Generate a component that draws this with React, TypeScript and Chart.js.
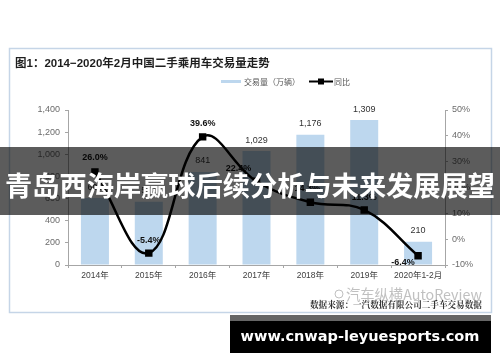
import React, { useEffect, useRef } from 'react';
import { Chart, registerables } from 'chart.js';

Chart.register(...registerables);

const categories = ['2014年', '2015年', '2016年', '2017年', '2018年', '2019年', '2020年1-2月'];
const volume = [605, 572, 841, 1029, 1176, 1309, 210];
const yoy = [26.0, -5.4, 39.6, 22.4, 14.3, 11.3, -6.4];
const leftMin = 0;
const leftMax = 1400;
const leftStep = 200;
const rightMin = -10;
const rightMax = 50;
const rightStep = 10;

const titleText = '图1：2014−2020年2月中国二手乘用车交易量走势';
const volumeName = '交易量（万辆）';
const yoyName = '同比';
const sourceText = '数据来源：一汽数据有限公司二手车交易数据';
const watermarkText = '汽车纵横AutoReview';
const bannerText = '青岛西海岸赢球后续分析与未来发展展望';
const siteText = 'www.cnwap-leyuesports.com';

// label placement (style only)
const yoyLabelOffsets = [[0, -14], [0, -13], [0, -13], [-18, -13], [-3, -14], [0, -12], [-15, 7]];

const SANS = '"Liberation Sans", Arial, "Noto Sans CJK SC", sans-serif';
const CJK = '"Noto Sans CJK SC", "Liberation Sans", sans-serif';

function fitFont(ctx: CanvasRenderingContext2D, text: string, weight: string, family: string, width: number) {
  ctx.font = `${weight} 20px ${family}`;
  const w = ctx.measureText(text).width;
  return (20 * width) / w;
}

const decor = {
  id: 'decor',
  beforeDraw(chart: any) {
    const ctx: CanvasRenderingContext2D = chart.ctx;
    ctx.save();
    ctx.fillStyle = '#ffffff';
    ctx.fillRect(0, 0, chart.width, chart.height);
    ctx.strokeStyle = '#c5d5e7';
    ctx.lineWidth = 1.5;
    ctx.strokeRect(9.5, 48.5, 482, 264);

    ctx.fillStyle = '#1e1e1e';
    ctx.textBaseline = 'middle';
    ctx.textAlign = 'left';
    ctx.font = `bold 11.5px ${SANS}`;
    ctx.fillText(titleText, 15, 64);

    // legend
    ctx.fillStyle = '#bdd7ee';
    ctx.fillRect(221, 80, 20, 3);
    ctx.fillStyle = '#555';
    ctx.font = `8px ${CJK}`;
    ctx.fillText(volumeName, 244, 81.5);
    ctx.strokeStyle = '#000';
    ctx.lineWidth = 2;
    ctx.beginPath();
    ctx.moveTo(309, 81.5);
    ctx.lineTo(333, 81.5);
    ctx.stroke();
    ctx.fillStyle = '#000';
    ctx.fillRect(318, 78.5, 6, 6);
    ctx.fillStyle = '#555';
    ctx.fillText(yoyName, 334, 81.5);
    ctx.restore();
  },
  afterDatasetsDraw(chart: any) {
    const ctx: CanvasRenderingContext2D = chart.ctx;
    ctx.save();
    ctx.textAlign = 'center';
    ctx.textBaseline = 'middle';
    const bars = chart.getDatasetMeta(1).data;
    ctx.font = `9px ${SANS}`;
    ctx.fillStyle = '#333';
    bars.forEach((b: any, i: number) => {
      ctx.fillText(volume[i].toLocaleString('en-US'), b.x, b.y - 11);
    });
    const pts = chart.getDatasetMeta(0).data;
    ctx.font = `bold 9px ${SANS}`;
    ctx.fillStyle = '#111';
    pts.forEach((p: any, i: number) => {
      const [dx, dy] = yoyLabelOffsets[i];
      ctx.fillText(yoy[i].toFixed(1) + '%', p.x + dx, p.y + dy);
    });
    ctx.restore();
  },
  afterDraw(chart: any) {
    const ctx: CanvasRenderingContext2D = chart.ctx;
    ctx.save();
    // watermark + source
    ctx.textBaseline = 'middle';
    ctx.textAlign = 'left';
    ctx.strokeStyle = 'rgba(150,150,150,0.6)';
    ctx.lineWidth = 1;
    ctx.beginPath();
    ctx.arc(339, 294, 4, 0, Math.PI * 2);
    ctx.stroke();
    ctx.fillStyle = 'rgba(140,140,140,0.55)';
    ctx.font = `14px ${CJK}`;
    const wmSize = fitFont(ctx, watermarkText, 'normal', CJK, 136);
    ctx.font = `${wmSize}px ${CJK}`;
    ctx.fillText(watermarkText, 346, 295);
    ctx.fillStyle = '#333';
    const srcSize = fitFont(ctx, sourceText, 'bold', '"Noto Serif CJK SC", ' + CJK, 172);
    ctx.font = `bold ${srcSize}px "Noto Serif CJK SC", ${CJK}`;
    ctx.fillText(sourceText, 310, 305);

    // overlay banner
    ctx.fillStyle = 'rgba(0,0,0,0.64)';
    ctx.fillRect(0, 147, chart.width, 68);
    ctx.fillStyle = '#ffffff';
    ctx.textAlign = 'center';
    const bSize = fitFont(ctx, bannerText, 'bold', CJK, 490);
    ctx.font = `bold ${bSize}px ${CJK}`;
    ctx.fillText(bannerText, 250, 186);

    // site banner
    ctx.fillStyle = '#666666';
    ctx.fillRect(230, 315, 261, 6);
    ctx.fillStyle = '#000000';
    ctx.fillRect(230, 321, 261, 32);
    ctx.fillStyle = '#ffffff';
    const sSize = fitFont(ctx, siteText, 'bold', '"DejaVu Sans", sans-serif', 239);
    ctx.font = `bold ${sSize}px "DejaVu Sans", sans-serif`;
    ctx.fillText(siteText, 360, 337);
    ctx.restore();
  },
};

export default function App() {
  const ref = useRef<HTMLCanvasElement | null>(null);
  useEffect(() => {
    if (!ref.current) return;
    const chart = new Chart(ref.current, {
      type: 'bar',
      data: {
        labels: categories,
        datasets: [
          {
            type: 'line',
            label: yoyName,
            data: yoy,
            yAxisID: 'y1',
            borderColor: '#000',
            backgroundColor: '#000',
            borderWidth: 2.5,
            tension: 0.4,
            pointStyle: 'rect',
            pointRadius: 3.5,
            pointBackgroundColor: '#000',
            pointBorderColor: '#000',
            order: 0,
          } as any,
          {
            type: 'bar',
            label: volumeName,
            data: volume,
            yAxisID: 'y',
            backgroundColor: '#bdd7ee',
            categoryPercentage: 1,
            barPercentage: 0.52,
            order: 1,
          },
        ],
      },
      options: {
        responsive: false,
        animation: false,
        layout: { padding: { left: 15, right: 8, top: 110, bottom: 77 } },
        plugins: {
          legend: { display: false },
          title: { display: false },
          tooltip: { enabled: false },
        },
        scales: {
          x: {
            offset: true,
            grid: { drawOnChartArea: false, drawTicks: true, tickLength: 3, color: '#a6a6a6', offset: true },
            border: { color: '#a6a6a6' },
            ticks: { color: '#404040', font: { size: 8.5, family: SANS }, padding: 3, maxRotation: 0, autoSkip: false },
            afterFit: (s: any) => { s.height = 20; },
          },
          y: {
            position: 'left',
            min: leftMin,
            max: leftMax,
            grid: { drawOnChartArea: false, drawTicks: true, tickLength: 3, color: '#a6a6a6' },
            border: { color: '#a6a6a6' },
            ticks: {
              stepSize: leftStep,
              color: '#6b6b6b',
              font: { size: 9, family: SANS },
              padding: 5,
              callback: (v: any) => Number(v).toLocaleString('en-US'),
            },
            afterFit: (s: any) => { s.width = 53; },
          },
          y1: {
            position: 'right',
            min: rightMin,
            max: rightMax,
            grid: { drawOnChartArea: false, drawTicks: true, tickLength: 3, color: '#a6a6a6' },
            border: { color: '#a6a6a6' },
            ticks: {
              stepSize: rightStep,
              color: '#6b6b6b',
              font: { size: 9, family: SANS },
              padding: 4,
              callback: (v: any) => v + '%',
            },
            afterFit: (s: any) => { s.width = 47; },
          },
        },
      },
      plugins: [decor],
    });
    return () => chart.destroy();
  }, []);
  return (
    <div style={{ position: 'absolute', left: 0, top: 0, width: 500, height: 362 }}>
      <canvas ref={ref} width={500} height={362} style={{ display: 'block', width: 500, height: 362 }} />
    </div>
  );
}
